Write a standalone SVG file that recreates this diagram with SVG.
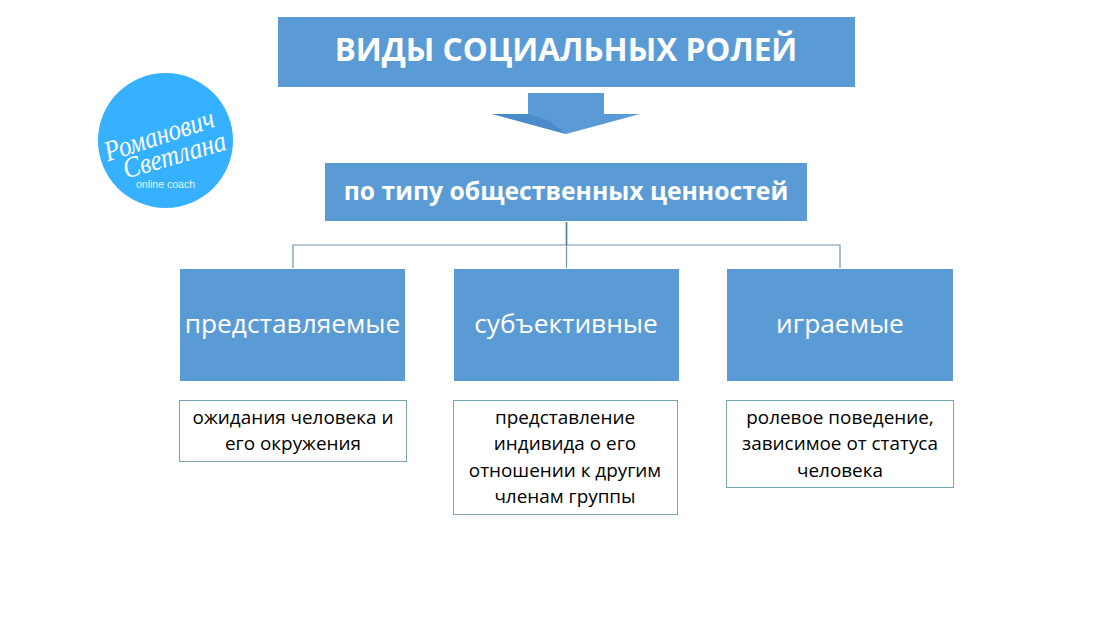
<svg xmlns="http://www.w3.org/2000/svg" width="1119" height="620" viewBox="0 0 1119 620">
<style>
.b{fill:#5b9bd5}
.h{font-family:"Open Sans","Liberation Sans",sans-serif;fill:#fff;text-anchor:middle}
.d{fill:#fff;stroke:#7aa3b5;stroke-width:1}
.t{font-family:"Open Sans","Liberation Sans",sans-serif;font-size:18.900px;fill:#000;text-anchor:middle}
.c{fill:none;stroke:#6f94b4;stroke-width:1.2}
.s{font-family:"Liberation Serif",serif;font-style:italic;font-size:29px;fill:#fff;text-anchor:middle}
</style>
<rect width="1119" height="620" fill="#fff"/>
<g id="logo">
<circle cx="165.500" cy="140.500" r="67.500" fill="#36b1ff"/>
<text class="s" transform="translate(162 144) rotate(-18)" x="0" y="0" textLength="114" lengthAdjust="spacingAndGlyphs">Романович</text>
<text class="s" transform="translate(177 164) rotate(-16)" x="0" y="0" textLength="106" lengthAdjust="spacingAndGlyphs">Светлана</text>
<text x="165.500" y="188" font-family="Liberation Sans,sans-serif" font-size="10.500" fill="#e4f4ff" text-anchor="middle">online coach</text>
</g>
<g id="title"><rect class="b" x="278" y="17" width="577" height="70"/><text class="h" x="566" y="61" font-size="31.500" font-weight="700">ВИДЫ СОЦИАЛЬНЫХ РОЛЕЙ</text></g>
<g id="arrow">
<polygon class="b" points="528,93 604,93 604,114 640,114 566,134 492,114 528,114"/>
<polygon points="492,114 528,114 550,121 566,134" fill="#4a8ccb"/>
</g>
<g id="subtitle"><rect class="b" x="325" y="163" width="482" height="58"/><text class="h" x="566" y="200" font-size="24.700" font-weight="700">по типу общественных ценностей</text></g>
<g id="connectors">
<path class="c" d="M293 268V245H840V268"/>
<path class="c" d="M566.500 222V268"/>
<path d="M566.500 222V245" fill="none" stroke="#4f7ea8" stroke-width="1.600"/>
</g>
<g id="n1"><rect class="b" x="180" y="269" width="225" height="112"/><text class="h" x="292.500" y="333" font-size="26.300">представляемые</text></g>
<g id="n2"><rect class="b" x="454" y="269" width="225" height="112"/><text class="h" x="566" y="333" font-size="26.300">субъективные</text></g>
<g id="n3"><rect class="b" x="727" y="269" width="226" height="112"/><text class="h" x="840" y="333" font-size="26.300">играемые</text></g>
<g id="d1"><rect class="d" x="179.500" y="400.500" width="227" height="61"/><text class="t"><tspan x="293" y="424">ожидания человека и</tspan><tspan x="293" y="450">его окружения</tspan></text></g>
<g id="d2"><rect class="d" x="453.500" y="400.500" width="224" height="114"/><text class="t"><tspan x="565" y="424">представление</tspan><tspan x="565" y="450">индивида о его</tspan><tspan x="565" y="477">отношении к другим</tspan><tspan x="565" y="503">членам группы</tspan></text></g>
<g id="d3"><rect class="d" x="726.500" y="400.500" width="227" height="87"/><text class="t"><tspan x="840" y="424">ролевое поведение,</tspan><tspan x="840" y="450">зависимое от статуса</tspan><tspan x="840" y="477">человека</tspan></text></g>
</svg>
